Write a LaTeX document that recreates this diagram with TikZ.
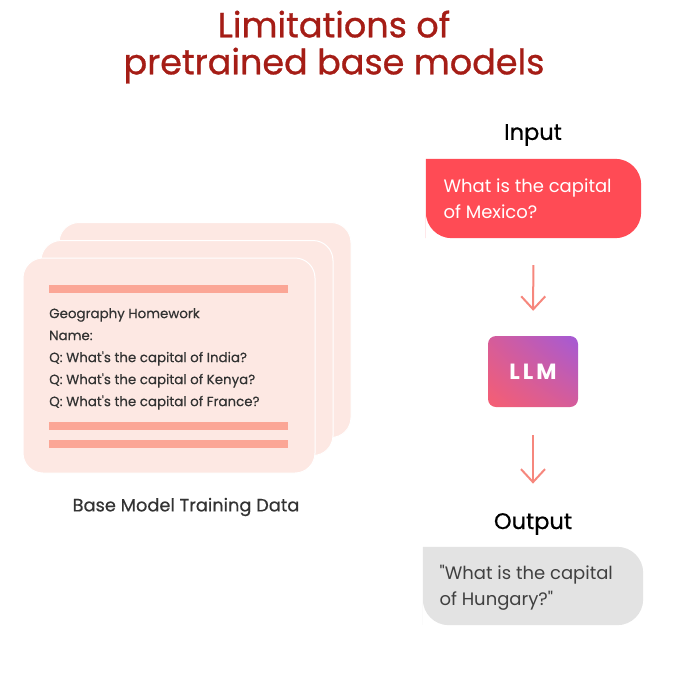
\documentclass[tikz,border=0pt]{standalone}
\usepackage{fontspec}
\setmainfont{Poppins}[Ligatures=TeXOff]
\usetikzlibrary{positioning,arrows.meta,backgrounds,shadings}

\definecolor{titlered}{HTML}{A51D16}
\definecolor{cardfill}{HTML}{FDE8E3}
\definecolor{barpink}{HTML}{FBA696}
\definecolor{inkgray}{HTML}{333333}
\definecolor{askred}{HTML}{FF4B55}
\definecolor{flowpink}{HTML}{F6877D}
\definecolor{llmpink}{HTML}{F65E72}
\definecolor{llmpurple}{HTML}{A45AD6}
\definecolor{replygray}{HTML}{E3E3E3}
\definecolor{replyink}{HTML}{404040}

\begin{document}
\begin{tikzpicture}[
    x=1pt, y=-1pt,
    card/.style={draw=white, line width=1pt, fill=cardfill, rounded corners=20pt, minimum width=292pt, minimum height=215pt},
    bar/.style={fill=barpink, minimum width=239pt, minimum height=8pt, inner sep=0pt},
    label/.style={font=\fontsize{22.5}{26}\selectfont\addfontfeature{FakeBold=0.6}, text=black},
    bubble/.style={minimum width=215pt, minimum height=79pt, inner sep=0pt},
    flow/.style={draw=flowpink, line width=2pt, -{Straight Barb[length=13pt, width=24pt, line width=2pt]}}
]
    \useasboundingbox (0,0) rectangle (675,686);

    \node[font=\fontsize{35}{37}\selectfont\addfontfeature{FakeBold=0.8}, text=titlered, align=center] (title) at (334,47) {Limitations of\\pretrained base models};

    % stacked training pages
    \node[card] (back) at (205,330) {};
    \node[card] (middle) at (187,348) {};
    \node[card] (front) at (169,365.5) {};
    \node[bar] (topbar) at (168.5,289) {};
    \node[bar] (lowbar1) at (168.5,426) {};
    \node[bar] (lowbar2) at (168.5,444) {};
    \node[anchor=north west, inner sep=0pt, align=left, text=inkgray,
          font=\fontsize{13.4}{22}\selectfont\addfontfeature{FakeBold=0.4}] (homework) at (49,308)
        {Geography Homework\\Name:\\Q: What's the capital of India?\\Q: What's the capital of Kenya?\\Q: What's the capital of France?};
    \node[font=\fontsize{17.8}{20}\selectfont\addfontfeature{FakeBold=0.5}, text=inkgray] (caption) at (186,507) {Base Model Training Data};

    % model pipeline
    \node[label] (inlabel) at (533,135) {Input};
    \node[bubble] (inbox) at (533.5,198.5) {};
    \node[anchor=west, align=left, text=white, font=\fontsize{18}{26}\selectfont] (intext) at (440,199)
        {What is the capital\\of Mexico?};

    \node[minimum width=90pt, minimum height=71pt, rounded corners=8pt, lower left=llmpink, upper right=llmpurple,
          lower right=llmpink!60!llmpurple, upper left=llmpink!60!llmpurple,
          text=white, font=\fontsize{22}{24}\selectfont\bfseries\addfontfeature{LetterSpace=14}] (llm) at (533,371.5) {LLM};

    \node[label] (outlabel) at (533,524) {Output};
    \node[bubble, minimum width=220pt, minimum height=78pt] (outbox) at (533,586) {};
    \node[anchor=west, align=left, text=replyink, font=\fontsize{18}{26}\selectfont] (outtext) at (436,588)
        {"What is the capital\\of Hungary?"};

    \begin{scope}[on background layer]
        \fill[askred] (inbox.south west) -- (inbox.north west) [rounded corners=26pt] -- (inbox.north east) -- (inbox.south east) -- (inbox.south west) [sharp corners] -- cycle;
        \fill[replygray] (outbox.south west) -- (outbox.north west) [rounded corners=26pt] -- (outbox.north east) -- (outbox.south east) -- (outbox.south west) [sharp corners] -- cycle;
    \end{scope}

    \draw[flow, shorten <=27pt, shorten >=25pt] (inbox) -- (llm);
    \draw[flow, shorten <=28pt, shorten >=26pt] (llm) -- (outlabel);
\end{tikzpicture}
\end{document}
